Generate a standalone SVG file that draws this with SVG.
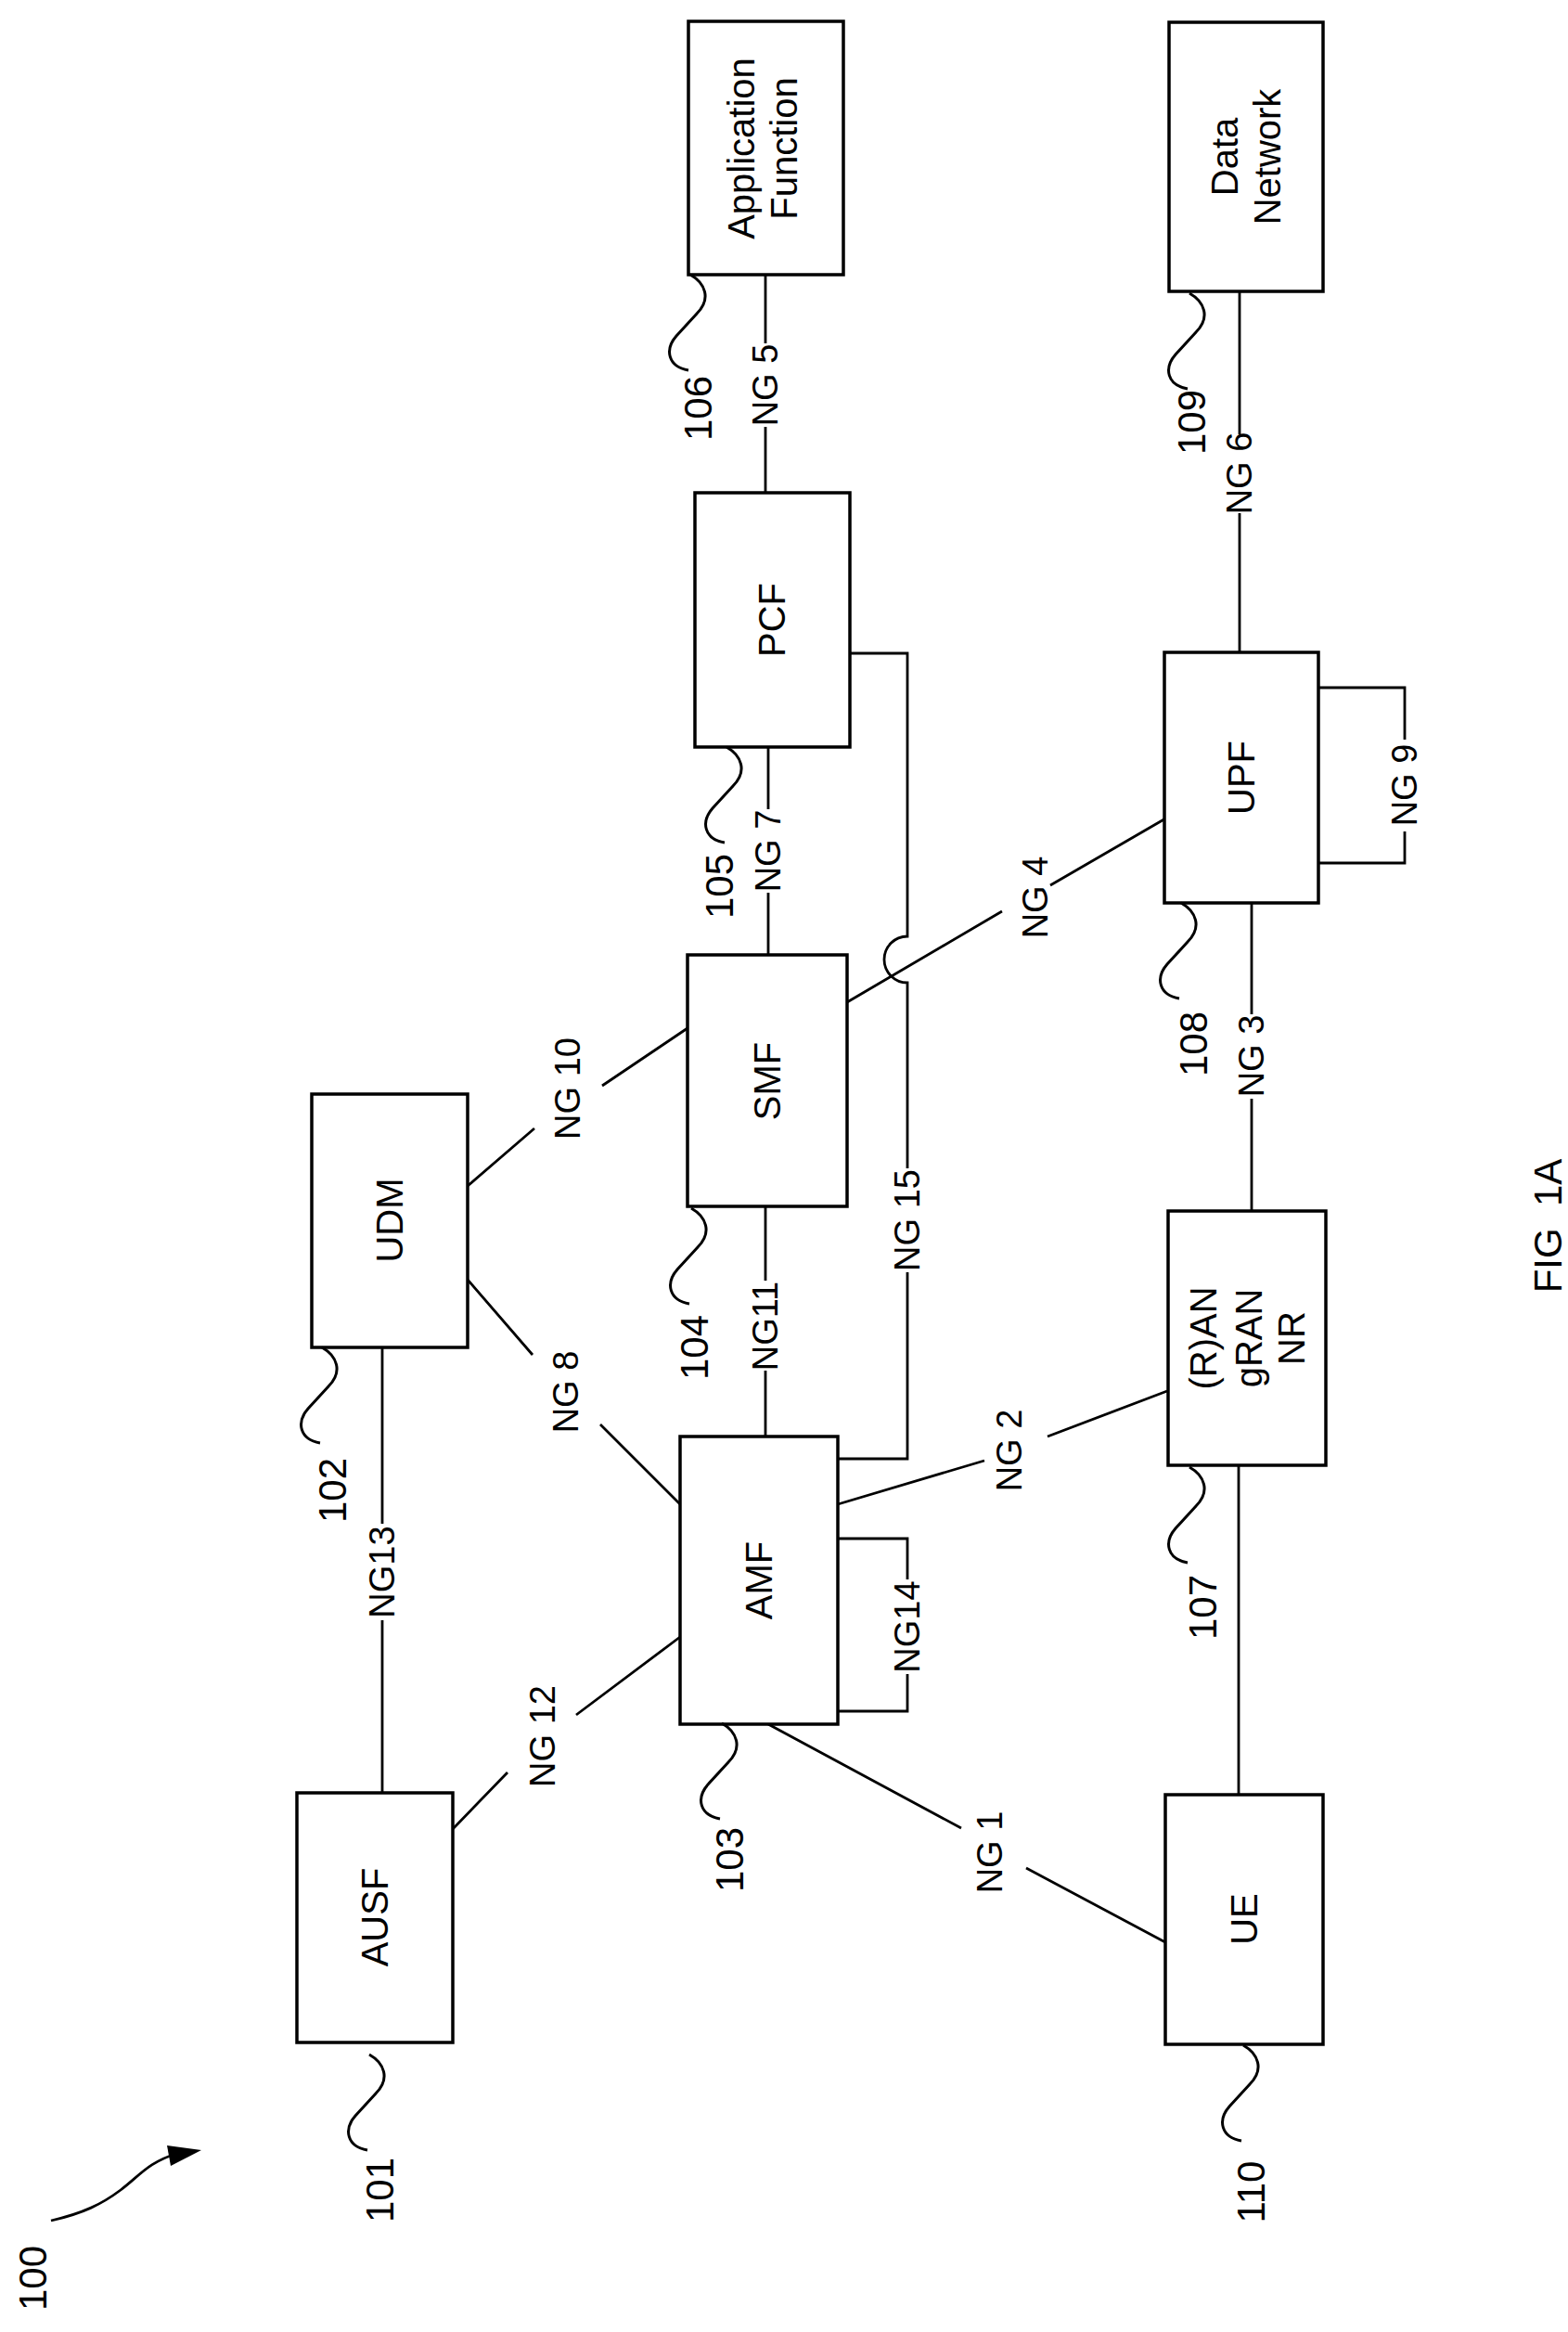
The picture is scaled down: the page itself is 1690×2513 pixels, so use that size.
<svg xmlns="http://www.w3.org/2000/svg" xmlns:xlink="http://www.w3.org/1999/xlink" width="1690" height="2513" viewBox="0 0 1690 2513">
<style>
.box{fill:#fff;stroke:#000;stroke-width:3.5}
.ln{fill:none;stroke:#000;stroke-width:2.8}
.sq{fill:none;stroke:#000;stroke-width:3}
text{font-family:"Liberation Sans",Arial,sans-serif;fill:#000;text-anchor:middle;dominant-baseline:central}
.t{font-size:40px}
.l{font-size:38px}
.r{font-size:42px}
</style>
<defs>
<path id="sq" d="m0,0 c16,9 23,26 7,42 l-22,24 c-13,15 -9,33 13,37"/>
</defs>
<rect width="1690" height="2513" fill="#fff"/>
<g id="connectors">
<path class="ln" d="M412,1932 V1746 M412,1642 V1452"/>
<path class="ln" d="M488,1971 L547,1910 M621,1848 L733,1764"/>
<path class="ln" d="M504,1379 L574,1460 M647,1535 L733,1621"/>
<path class="ln" d="M504,1278 L576,1216 M649,1170 L741,1108"/>
<path class="ln" d="M825,1548 V1477 M825,1380 V1300"/>
<path class="ln" d="M828,1029 V962 M828,872 V805"/>
<path class="ln" d="M825,531 V460 M825,370 V296"/>
<path class="ln" d="M916,704 H978 V1009 A25,25 0 0 0 978,1059 V1259 M978,1371 V1572 H903"/>
<path class="ln" d="M913,1080 L1080,982 M1132,954 L1258,881"/>
<path class="ln" d="M903,1621 L1061,1574 M1129,1548 L1258,1499"/>
<path class="ln" d="M1349,973 V1093 M1349,1184 V1305"/>
<path class="ln" d="M1336,314 V468 M1336,553 V703"/>
<path class="ln" d="M1421,741 H1514 V797 M1514,896 V930 H1421"/>
<path class="ln" d="M903,1658 H978 V1702 M978,1804 V1844 H903"/>
<path class="ln" d="M828,1858 L1036,1970 M1106,2013 L1256,2093"/>
<path class="ln" d="M1335,1579 V1934"/>
<path class="ln" d="M55,2393 C90,2385 110,2375 130,2360 C150,2345 160,2330 190,2321" stroke-width="3.5"/>
<polygon points="217,2317 180,2312 184,2334" fill="#000"/>
</g>
<g id="labels">
<text class="l" transform="translate(412,1694) rotate(-90)">NG13</text>
<text class="l" transform="translate(585,1871) rotate(-90)">NG 12</text>
<text class="l" transform="translate(610,1500) rotate(-90)">NG 8</text>
<text class="l" transform="translate(612,1173) rotate(-90)">NG 10</text>
<text class="l" transform="translate(825,1429) rotate(-90)">NG11</text>
<text class="l" transform="translate(828,917) rotate(-90)">NG 7</text>
<text class="l" transform="translate(825,415) rotate(-90)">NG 5</text>
<text class="l" transform="translate(978,1315) rotate(-90)">NG 15</text>
<text class="l" transform="translate(1116,967) rotate(-90)">NG 4</text>
<text class="l" transform="translate(1088,1563) rotate(-90)">NG 2</text>
<text class="l" transform="translate(1349,1138) rotate(-90)">NG 3</text>
<text class="l" transform="translate(1336,510) rotate(-90)">NG 6</text>
<text class="l" transform="translate(1514,846) rotate(-90)">NG 9</text>
<text class="l" transform="translate(978,1753) rotate(-90)">NG14</text>
<text class="l" transform="translate(1067,1996) rotate(-90)">NG 1</text>
<text class="t" transform="translate(1668,1321) rotate(-90)" style="font-size:42px" xml:space="preserve">FIG  1A</text>
<text class="r" transform="translate(35,2455) rotate(-90)">100</text>
</g>
<g id="n101"><rect class="box" x="320" y="1932" width="168" height="269"/><text class="t" transform="translate(404,2066) rotate(-90)">AUSF</text><use href="#sq" class="sq" x="398" y="2214"/><text class="r" transform="translate(409,2360) rotate(-90)">101</text></g>
<g id="n102"><rect class="box" x="336" y="1179" width="168" height="273"/><text class="t" transform="translate(420,1315) rotate(-90)">UDM</text><use href="#sq" class="sq" x="347" y="1452"/><text class="r" transform="translate(358,1606) rotate(-90)">102</text></g>
<g id="n103"><rect class="box" x="733" y="1548" width="170" height="310"/><text class="t" transform="translate(818,1703) rotate(-90)">AMF</text><use href="#sq" class="sq" x="778" y="1857"/><text class="r" transform="translate(786,2004) rotate(-90)">103</text></g>
<g id="n104"><rect class="box" x="741" y="1029" width="172" height="271"/><text class="t" transform="translate(827,1165) rotate(-90)">SMF</text><use href="#sq" class="sq" x="745" y="1302"/><text class="r" transform="translate(748,1452) rotate(-90)">104</text></g>
<g id="n105"><rect class="box" x="749" y="531" width="167" height="274"/><text class="t" transform="translate(832,668) rotate(-90)">PCF</text><use href="#sq" class="sq" x="783" y="805"/><text class="r" transform="translate(775,955) rotate(-90)">105</text></g>
<g id="n106"><rect class="box" x="742" y="23" width="167" height="273"/><text class="t" transform="translate(799,160) rotate(-90)">Application</text><text class="t" transform="translate(845,160) rotate(-90)">Function</text><use href="#sq" class="sq" x="744" y="296"/><text class="r" transform="translate(752,440) rotate(-90)">106</text></g>
<g id="n107"><rect class="box" x="1259" y="1305" width="170" height="274"/><text class="t" transform="translate(1297,1442) rotate(-90)">(R)AN</text><text class="t" transform="translate(1346,1442) rotate(-90)">gRAN</text><text class="t" transform="translate(1392,1442) rotate(-90)">NR</text><use href="#sq" class="sq" x="1282" y="1581"/><text class="r" transform="translate(1296,1732) rotate(-90)">107</text></g>
<g id="n108"><rect class="box" x="1255" y="703" width="166" height="270"/><text class="t" transform="translate(1338,838) rotate(-90)">UPF</text><use href="#sq" class="sq" x="1273" y="973"/><text class="r" transform="translate(1286,1125) rotate(-90)">108</text></g>
<g id="n109"><rect class="box" x="1260" y="24" width="166" height="290"/><text class="t" transform="translate(1320,169) rotate(-90)">Data</text><text class="t" transform="translate(1366,169) rotate(-90)">Network</text><use href="#sq" class="sq" x="1282" y="316"/><text class="r" transform="translate(1284,455) rotate(-90)">109</text></g>
<g id="n110"><rect class="box" x="1256" y="1934" width="170" height="269"/><text class="t" transform="translate(1341,2068) rotate(-90)">UE</text><use href="#sq" class="sq" x="1340" y="2204"/><text class="r" transform="translate(1348,2362) rotate(-90)">110</text></g>
</svg>
